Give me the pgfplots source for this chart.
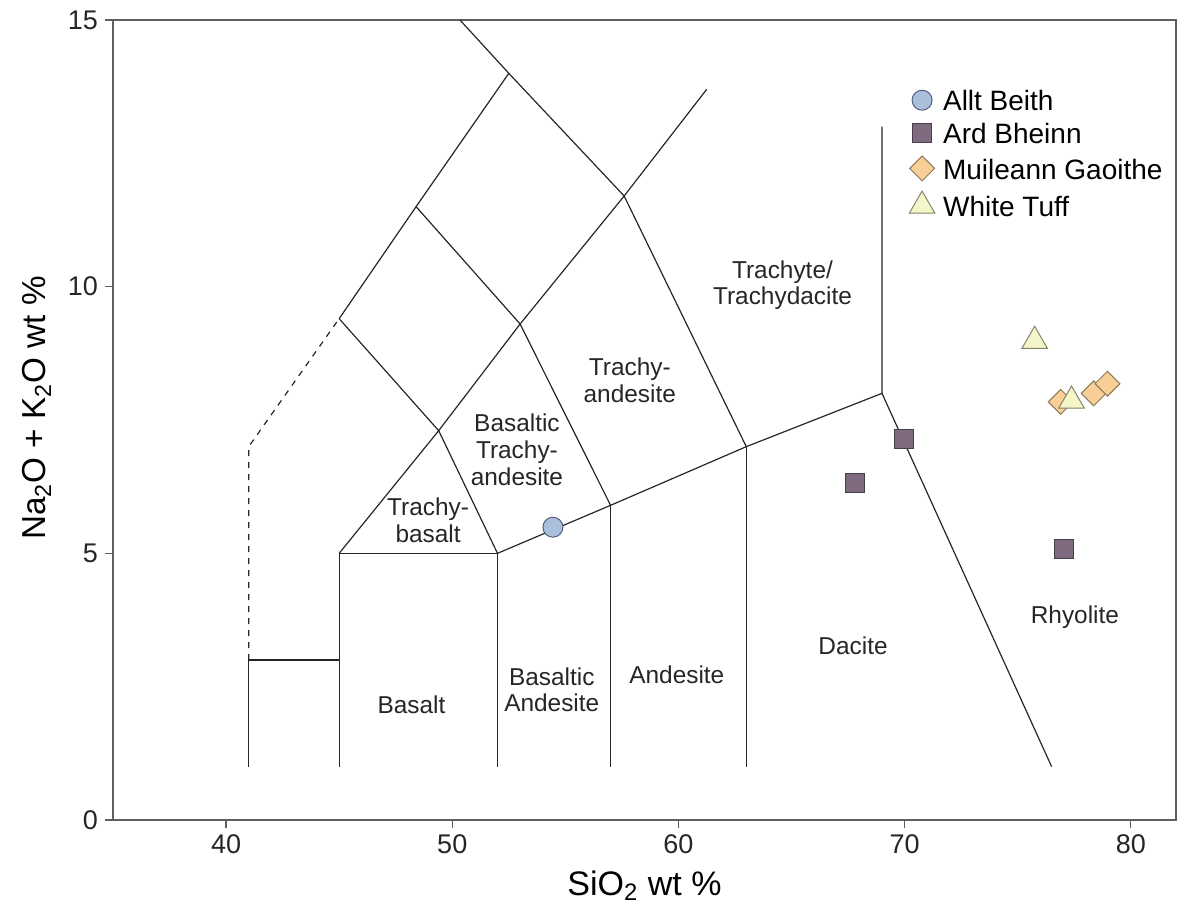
\documentclass[border=0pt]{standalone}
\usepackage{pgfplots}
\pgfplotsset{compat=1.18}
\usepackage{fontspec}
\setmainfont{Liberation Sans}

\definecolor{framegray}{HTML}{5F5F5F}
\definecolor{alltfill}{HTML}{A9BFDC}
\definecolor{alltedge}{HTML}{55607A}
\definecolor{ardfill}{HTML}{7F6B80}
\definecolor{ardedge}{HTML}{4A3E4C}
\definecolor{muifill}{HTML}{F8CF96}
\definecolor{muiedge}{HTML}{8E7858}
\definecolor{wtfill}{HTML}{F4F5C9}
\definecolor{wtedge}{HTML}{85856A}

\pgfplotsset{
  tas/.style={color=black!85, line width=0.6pt, mark=none, forget plot},
}
\tikzset{
  field/.style={font=\fontsize{12.2}{13.3}\selectfont, align=center, inner sep=0pt, text=black!85},
}

\begin{document}
\begin{tikzpicture}
\begin{axis}[
    scale only axis,
    width=531.5pt, height=400pt,
    xmin=35, xmax=82, ymin=0, ymax=15,
    xtick={40,50,60,70,80}, ytick={0,5,10,15},
    tick align=outside, tick pos=left,
    major tick length=4pt,
    axis line style={framegray, line width=0.8pt},
    every tick/.style={framegray, line width=0.7pt},
    /pgf/number format/assume math mode=true,
    ticklabel style={font=\fontsize{13.5}{16}\selectfont, text=black!85},
    xlabel={SiO\textsubscript{2} wt \%},
    ylabel={Na\textsubscript{2}O + K\textsubscript{2}O wt \%},
    label style={font=\fontsize{17}{20}\selectfont},
    xlabel style={at={(axis description cs:0.5,-0.082)}, anchor=center},
    ylabel style={at={(axis description cs:-0.0715,0.515)}, anchor=center,
      font=\fontsize{16.6}{20}\selectfont},
    legend style={draw=none, fill=none, inner sep=0pt,
      at={(axis description cs:0.741,0.9135)}, anchor=north west,
      font=\fontsize{14}{16}\selectfont, row sep=0pt,
      nodes={inner sep=0pt, text height=10.6pt, text depth=6pt}},
    legend cell align=left,
    legend image code/.code={%
      \path[draw=none, fill=none] (-10.5pt,-3pt) rectangle (10.5pt,3pt);
      \draw[#1] plot coordinates {(0pt,3pt)};},
  ]

  % TAS field boundaries
  \addplot[tas] coordinates {(41,1) (41,3)};
  \addplot[tas, dashed] coordinates {(41,3) (41,7) (45,9.4)};
  \addplot[tas] coordinates {(41,3) (45,3)};
  \addplot[tas] coordinates {(45,1) (45,5) (52,5) (52,1)};
  \addplot[tas] coordinates {(45,5) (49.4,7.3) (52,5)};
  \addplot[tas] coordinates {(52,5) (57,5.9) (63,7) (69,8) (69,13)};
  \addplot[tas] coordinates {(57,1) (57,5.9)};
  \addplot[tas] coordinates {(63,1) (63,7)};
  \addplot[tas] coordinates {(69,8) (76.5,1)};
  \addplot[tas] coordinates {(49.4,7.3) (53,9.3) (57.6,11.7) (61.25,13.7)};
  \addplot[tas] coordinates {(45,9.4) (49.4,7.3)};
  \addplot[tas] coordinates {(57,5.9) (53,9.3) (48.4,11.5)};
  \addplot[tas] coordinates {(63,7) (57.6,11.7) (52.5,14) (50.34,15)};
  \addplot[tas] coordinates {(45,9.4) (48.4,11.5) (52.5,14)};

  % field names
  \node[field] at (axis cs:48.93,5.62) {Trachy-\\basalt};
  \node[field] at (axis cs:52.86,6.94) {Basaltic\\Trachy-\\andesite};
  \node[field] at (axis cs:57.85,8.25) {Trachy-\\andesite};
  \node[field] at (axis cs:64.6,10.03) {Trachyte/\\Trachydacite};
  \node[field] at (axis cs:48.2,2.16) {Basalt};
  \node[field] at (axis cs:54.4,2.44) {Basaltic\\Andesite};
  \node[field] at (axis cs:59.93,2.72) {Andesite};
  \node[field] at (axis cs:67.72,3.26) {Dacite};
  \node[field] at (axis cs:77.53,3.8) {Rhyolite};

  % samples
  \addplot[only marks, mark=*, mark size=5pt,
    mark options={fill=alltfill, draw=alltedge, line width=0.5pt}]
    coordinates {(54.45,5.49)};
  \addlegendentry{Allt Beith}

  \addplot[only marks, mark=square*, mark size=4.8pt,
    mark options={fill=ardfill, draw=ardedge, line width=0.5pt}]
    coordinates {(67.8,6.32) (69.96,7.14) (77.03,5.08)};
  \addlegendentry{Ard Bheinn}

  \addplot[only marks, mark=square*, mark size=4.4pt,
    mark options={rotate=45, fill=muifill, draw=muiedge, line width=0.5pt}]
    coordinates {(76.9,7.84) (78.36,8.0) (78.97,8.18)};
  \addlegendentry{Muileann Gaoithe}

  \addplot[only marks, mark=triangle*, mark size=7.4pt,
    mark options={fill=wtfill, draw=wtedge, line width=0.5pt}]
    coordinates {(75.75,8.98) (77.38,7.86)};
  \addlegendentry{White Tuff}

\end{axis}
\pgfresetboundingbox
\path ([shift={(-56.5pt,-47.5pt)}]current axis.south west)
  rectangle ([shift={(1.5pt,10pt)}]current axis.north east);
\end{tikzpicture}
\end{document}
